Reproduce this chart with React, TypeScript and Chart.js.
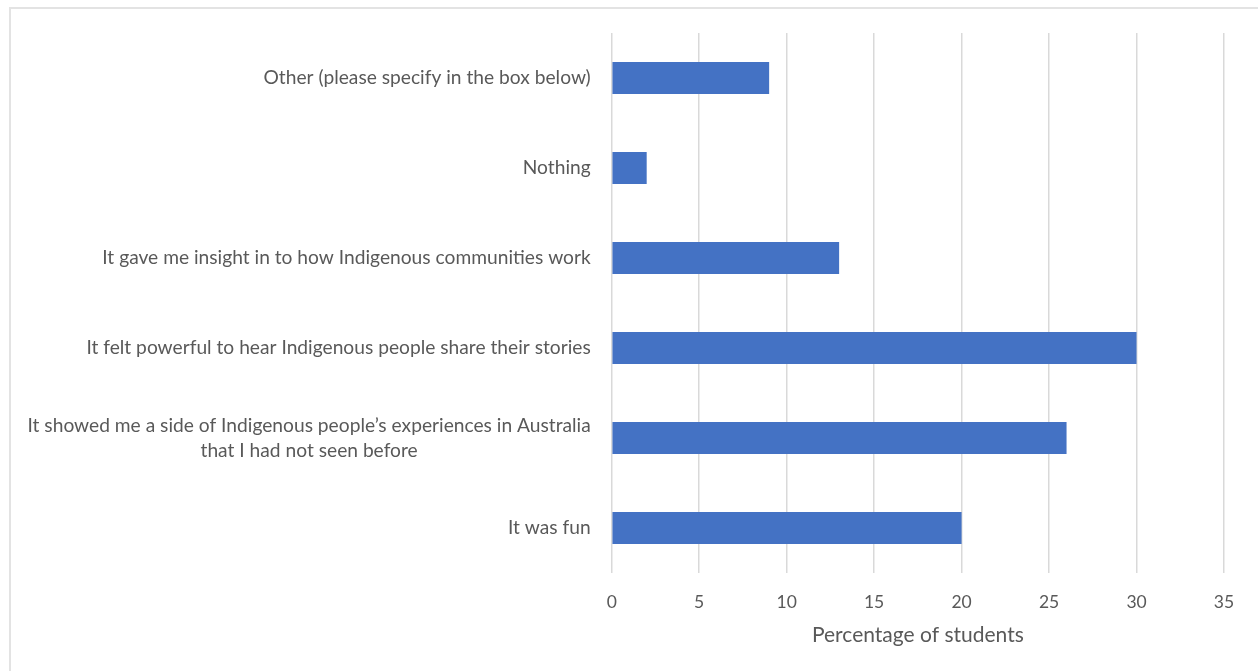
import React, { useEffect, useRef } from "react";
import { Chart, registerables } from "chart.js";

Chart.register(...registerables);

const categories: (string | string[])[] = [
  "Other (please specify in the box below)",
  "Nothing",
  "It gave me insight in to how Indigenous communities work",
  "It felt powerful to hear Indigenous people share their stories",
  ["It showed me a side of Indigenous people\u2019s experiences in Australia", "that I had not seen before"],
  "It was fun",
];
const percentages = [9, 2, 13, 30, 26, 20];
const xTicks = [0, 5, 10, 15, 20, 25, 30, 35];
const xTitle = "Percentage of students";

const FONT = "Lato";
const TEXT = "#595959";

const labelPlugin = {
  id: "centeredYLabels",
  afterDraw(chart: any) {
    const ys = chart.scales.y;
    const ctx = chart.ctx;
    ctx.save();
    ctx.font = `19.2px ${FONT}`;
    ctx.fillStyle = TEXT;
    ctx.textBaseline = "middle";
    ctx.textAlign = "center";
    const right = chart.chartArea.left - 21;
    const lh = 25;
    categories.forEach((lab, i) => {
      const lines = Array.isArray(lab) ? lab : [lab];
      const maxW = Math.max(...lines.map((l) => ctx.measureText(l).width));
      const cx = right - maxW / 2;
      const cy = ys.getPixelForValue(i);
      const y0 = cy - ((lines.length - 1) * lh) / 2;
      lines.forEach((l, k) => ctx.fillText(l, cx, y0 + k * lh));
    });
    ctx.restore();
  },
};

export default function App() {
  const ref = useRef<HTMLCanvasElement>(null);
  useEffect(() => {
    if (!ref.current) return;
    const chart = new Chart(ref.current, {
      type: "bar",
      data: {
        labels: categories as any,
        datasets: [
          {
            data: percentages,
            backgroundColor: "#4472C4",
            borderWidth: 0,
            categoryPercentage: 0.355,
            barPercentage: 1,
          },
        ],
      },
      options: {
        indexAxis: "y",
        animation: false,
        responsive: false,
        layout: { padding: { top: 33, right: 34, left: 0, bottom: 0 } },
        plugins: { legend: { display: false }, tooltip: { enabled: false } },
        scales: {
          x: {
            min: 0,
            max: 35,
            afterBuildTicks: (s: any) => {
              s.ticks = xTicks.map((v) => ({ value: v }));
            },
            afterFit: (s: any) => {
              s.height = 98;
            },
            grid: { color: "#d9d9d9", lineWidth: 1.5, drawTicks: false },
            border: { display: false },
            ticks: {
              padding: 19,
              color: TEXT,
              font: { family: FONT, size: 17.5 },
            },
            title: {
              display: true,
              text: xTitle,
              color: TEXT,
              font: { family: FONT, size: 21 },
              padding: { top: 4, bottom: 23 },
            },
          },
          y: {
            afterFit: (s: any) => {
              s.width = 611.7;
            },
            grid: { display: false },
            border: { display: false },
            ticks: { display: false },
          },
        },
      },
      plugins: [labelPlugin],
    });
    return () => chart.destroy();
  }, []);
  return (
    <div style={{ position: "fixed", left: 0, top: 0, width: 1258, height: 671, background: "#fff" }}>
      <div
        style={{
          position: "absolute",
          left: 9,
          top: 7,
          width: 1400,
          height: 800,
          borderLeft: "2px solid #e3e3e3",
          borderTop: "2px solid #e3e3e3",
        }}
      />
      <canvas ref={ref} width={1258} height={671} style={{ position: "absolute", left: 0, top: 0 }} />
    </div>
  );
}
